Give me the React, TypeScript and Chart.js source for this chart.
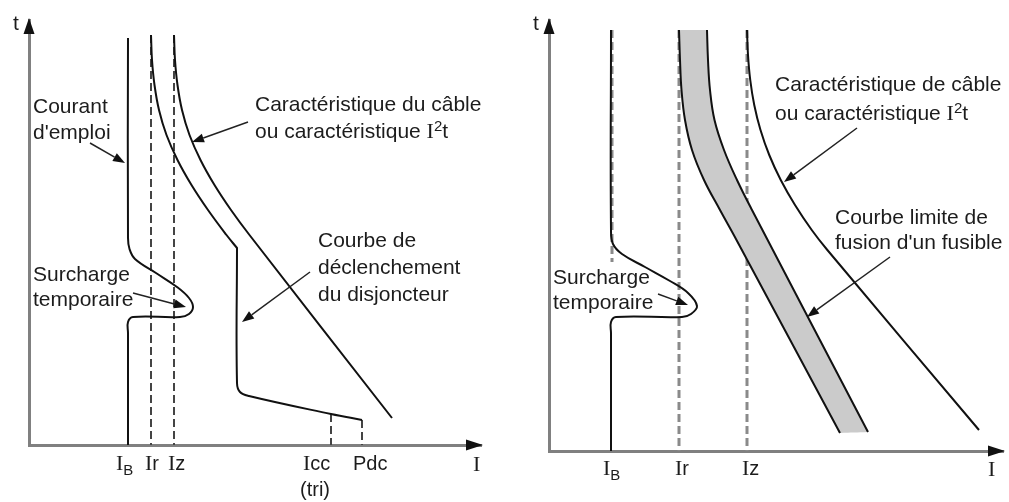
import React, { useEffect, useRef } from 'react';
import { Chart, registerables } from 'chart.js';

Chart.register(...registerables);

type Pt = [number, number];

// ---------------- Left panel : disjoncteur (axis units, origin at the axes corner) ----------------
const L_IB: Pt[] = [[99, 407], [99, 207], [100.5, 196], [106, 186], [127, 172], [148, 158], [160, 147], [164, 138], [160, 131], [151, 128], [104, 128], [99, 123], [99, 112], [99, 0]];
const L_TRIP: Pt[] = [[122, 410], [123, 385], [125.5, 360], [130, 335], [137.5, 310], [148.5, 285], [162.5, 260], [179, 235], [197.5, 210], [208, 197], [208, 197], [208, 62], [211, 53], [220, 49], [302, 31], [333, 25]];
const L_CABLE: Pt[] = [[145, 410], [146, 385], [148.5, 360], [153, 335], [160.5, 310], [171.5, 285], [185.5, 260], [202, 235], [220.5, 210], [363, 27]];
const L_IR: Pt[] = [[122, 410], [122, 0]];
const L_IZ: Pt[] = [[145, 410], [145, 0]];
const L_ICC: Pt[] = [[302, 31], [302, 0]];
const L_PDC: Pt[] = [[333, 25], [333, 0]];

// ---------------- Right panel : fusible ----------------
const R_IB: Pt[] = [[62, 421], [62, 221], [64, 207], [73, 197], [96, 184], [121, 170], [139, 158], [148, 145], [142, 137], [133, 134], [67, 134], [62, 129], [62, 118], [62, 0]];
const R_IB_DASH: Pt[] = [[63, 421], [63, 189]];
const R_IR: Pt[] = [[130, 421], [130, 0]];
const R_IZ: Pt[] = [[198, 421], [198, 0]];
const R_FUSE_L: Pt[] = [[130, 421], [131, 391], [132.5, 361], [136, 331], [143, 301], [155, 271], [171, 241], [187.5, 211], [291, 18]];
const R_FUSE_R: Pt[] = [[158, 421], [159, 391], [161, 361], [165.5, 331], [175, 301], [188, 271], [203, 241], [319, 19]];
const R_CABLE: Pt[] = [[198, 421], [199, 396], [201.25, 371], [205.25, 346], [211.5, 321], [220.25, 296], [231.75, 271], [246, 246], [262.75, 221], [278.35, 201], [430, 21]];

// ---------------- Labels ----------------
type Run = [string, string];
type Label = { x: number; y: number; runs: Run[] };

const L_LABELS: Label[] = [
  { x: -16, y: 421, runs: [['s', 't']] },
  { x: 4, y: 338, runs: [['s', 'Courant']] },
  { x: 4, y: 312, runs: [['s', "d'emploi"]] },
  { x: 226, y: 340, runs: [['s', 'Caractéristique du câble']] },
  { x: 226, y: 313, runs: [['s', 'ou caractéristique '], ['i', 'I'], ['sup', '2'], ['s', 't']] },
  { x: 289, y: 204, runs: [['s', 'Courbe de']] },
  { x: 289, y: 177, runs: [['s', 'déclenchement']] },
  { x: 289, y: 150, runs: [['s', 'du disjoncteur']] },
  { x: 4, y: 170, runs: [['s', 'Surcharge']] },
  { x: 4, y: 145, runs: [['s', 'temporaire']] },
  { x: 87, y: -19, runs: [['i', 'I'], ['sub', 'B']] },
  { x: 116, y: -19, runs: [['i', 'I'], ['l', 'r']] },
  { x: 139, y: -19, runs: [['i', 'I'], ['l', 'z']] },
  { x: 274, y: -19, runs: [['i', 'I'], ['l', 'cc']] },
  { x: 271, y: -45, runs: [['l', '(tri)']] },
  { x: 324, y: -19, runs: [['l', 'Pdc']] },
  { x: 444, y: -20, runs: [['i', 'I']] },
];
const L_ARROWS: number[][] = [
  [61, 302, 96, 282],
  [219, 323, 163, 303],
  [281, 173, 213, 123],
  [104, 152, 157, 138],
];

const R_LABELS: Label[] = [
  { x: -16, y: 427, runs: [['s', 't']] },
  { x: 226, y: 366, runs: [['s', 'Caractéristique de câble']] },
  { x: 226, y: 337, runs: [['s', 'ou caractéristique '], ['i', 'I'], ['sup', '2'], ['s', 't']] },
  { x: 286, y: 233, runs: [['s', 'Courbe limite de']] },
  { x: 286, y: 208, runs: [['s', "fusion d'un fusible"]] },
  { x: 4, y: 173, runs: [['s', 'Surcharge']] },
  { x: 4, y: 148, runs: [['s', 'temporaire']] },
  { x: 54, y: -18, runs: [['i', 'I'], ['sub', 'B']] },
  { x: 126, y: -18, runs: [['i', 'I'], ['l', 'r']] },
  { x: 193, y: -18, runs: [['i', 'I'], ['l', 'z']] },
  { x: 439, y: -19, runs: [['i', 'I']] },
];
const R_ARROWS: number[][] = [
  [308, 323, 235, 269],
  [341, 194, 258, 134],
  [109, 157, 139, 146],
];

// ---------------- Styling helpers ----------------
const SANS = '"Liberation Sans", Arial, Helvetica, sans-serif';
const SERIF = '"Liberation Serif", "Times New Roman", serif';
const FONTS: Record<string, string> = {
  s: `21px ${SANS}`,
  l: `20px ${SANS}`,
  i: `22px ${SERIF}`,
  sub: `15px ${SANS}`,
  sup: `15px ${SANS}`,
};
const SHIFT: Record<string, number> = { sub: 7, sup: -5 };

const toXY = (a: Pt[]) => a.map(([x, y]) => ({ x, y }));

const solid = (d: Pt[]) => ({
  data: toXY(d), showLine: true, pointRadius: 0, borderColor: '#111', borderWidth: 2, tension: 0.4, fill: false,
});
const dashed = (d: Pt[], color: string, width: number) => ({
  data: toXY(d), showLine: true, pointRadius: 0, borderColor: color, borderWidth: width, borderDash: [8, 4], tension: 0, fill: false,
});
const band = (l: Pt[], r: Pt[]) => {
  const ll = l[l.length - 1];
  const rl = r[r.length - 1];
  const poly: Pt[] = [...l, ll, rl, ...r.slice().reverse()];
  return {
    data: toXY(poly), showLine: true, pointRadius: 0, borderColor: 'rgba(0,0,0,0)', borderWidth: 1,
    backgroundColor: '#cbcbcb', fill: 'shape', tension: 0.4,
  };
};

function drawArrow(ctx: CanvasRenderingContext2D, x1: number, y1: number, x2: number, y2: number) {
  const a = Math.atan2(y2 - y1, x2 - x1);
  const len = 12, hw = 4.5;
  const bx = x2 - len * Math.cos(a), by = y2 - len * Math.sin(a);
  ctx.strokeStyle = '#222';
  ctx.lineWidth = 1.5;
  ctx.beginPath();
  ctx.moveTo(x1, y1);
  ctx.lineTo(bx, by);
  ctx.stroke();
  ctx.fillStyle = '#111';
  ctx.beginPath();
  ctx.moveTo(x2, y2);
  ctx.lineTo(bx + hw * Math.sin(a), by - hw * Math.cos(a));
  ctx.lineTo(bx - hw * Math.sin(a), by + hw * Math.cos(a));
  ctx.closePath();
  ctx.fill();
}

function decor(labels: Label[], arrows: number[][]) {
  return {
    id: 'decor',
    afterDraw(chart: any) {
      const { ctx, chartArea, scales } = chart;
      const px = (v: number) => scales.x.getPixelForValue(v);
      const py = (v: number) => scales.y.getPixelForValue(v);
      ctx.save();
      // axis arrowheads
      ctx.fillStyle = '#111';
      const tx = chartArea.left, ty = chartArea.top - 2;
      ctx.beginPath();
      ctx.moveTo(tx, ty);
      ctx.lineTo(tx - 5.5, ty + 16);
      ctx.lineTo(tx + 5.5, ty + 16);
      ctx.closePath();
      ctx.fill();
      const rx = chartArea.right + 2, ry = chartArea.bottom;
      ctx.beginPath();
      ctx.moveTo(rx, ry);
      ctx.lineTo(rx - 17, ry - 5.5);
      ctx.lineTo(rx - 17, ry + 5.5);
      ctx.closePath();
      ctx.fill();
      // annotation arrows
      for (const a of arrows) drawArrow(ctx, px(a[0]), py(a[1]), px(a[2]), py(a[3]));
      // texts
      ctx.fillStyle = '#1c1c1c';
      ctx.textBaseline = 'middle';
      ctx.textAlign = 'left';
      for (const lb of labels) {
        let cx = px(lb.x);
        const cy = py(lb.y);
        for (const [k, s] of lb.runs) {
          ctx.font = FONTS[k];
          ctx.fillText(s, cx, cy + (SHIFT[k] || 0));
          cx += ctx.measureText(s).width;
        }
      }
      ctx.restore();
    },
  };
}

const axis = (max: number) => ({
  type: 'linear' as const,
  min: 0,
  max,
  display: true,
  grid: { display: false, drawTicks: false },
  ticks: { display: false },
  border: { display: true, color: '#808080', width: 3 },
});

type PanelCfg = {
  width: number;
  height: number;
  left: number;
  pad: { left: number; top: number; right: number; bottom: number };
  xMax: number;
  yMax: number;
  datasets: () => any[];
  labels: Label[];
  arrows: number[][];
};

const LEFT: PanelCfg = {
  width: 500, height: 502, left: 0,
  pad: { left: 29, top: 20, right: 19, bottom: 57 },
  xMax: 452, yMax: 425,
  datasets: () => [
    solid(L_IB), solid(L_TRIP), solid(L_CABLE),
    dashed(L_IR, '#444', 2), dashed(L_IZ, '#444', 2), dashed(L_ICC, '#444', 2), dashed(L_PDC, '#444', 2),
  ],
  labels: L_LABELS,
  arrows: L_ARROWS,
};

const RIGHT: PanelCfg = {
  width: 509, height: 502, left: 500,
  pad: { left: 49, top: 20, right: 6, bottom: 51 },
  xMax: 454, yMax: 431,
  datasets: () => [
    solid(R_IB), solid(R_CABLE), solid(R_FUSE_L), solid(R_FUSE_R),
    band(R_FUSE_L, R_FUSE_R),
    dashed(R_IB_DASH, '#8a8a8a', 3), dashed(R_IR, '#8a8a8a', 3), dashed(R_IZ, '#8a8a8a', 3),
  ],
  labels: R_LABELS,
  arrows: R_ARROWS,
};

function Panel({ cfg }: { cfg: PanelCfg }) {
  const ref = useRef<HTMLCanvasElement>(null);
  useEffect(() => {
    const chart = new Chart(ref.current as HTMLCanvasElement, {
      type: 'scatter',
      data: { datasets: cfg.datasets() },
      options: {
        responsive: false,
        animation: false,
        events: [],
        layout: { padding: cfg.pad },
        plugins: { legend: { display: false }, tooltip: { enabled: false }, title: { display: false } },
        scales: { x: axis(cfg.xMax), y: axis(cfg.yMax) },
      } as any,
      plugins: [decor(cfg.labels, cfg.arrows)],
    });
    return () => chart.destroy();
  }, [cfg]);
  return (
    <canvas
      ref={ref}
      width={cfg.width}
      height={cfg.height}
      style={{ position: 'absolute', left: cfg.left, top: 0, width: cfg.width, height: cfg.height }}
    />
  );
}

export default function App() {
  return (
    <div style={{ position: 'fixed', left: 0, top: 0, width: 1009, height: 502, background: '#fff', overflow: 'hidden' }}>
      <Panel cfg={LEFT} />
      <Panel cfg={RIGHT} />
    </div>
  );
}
